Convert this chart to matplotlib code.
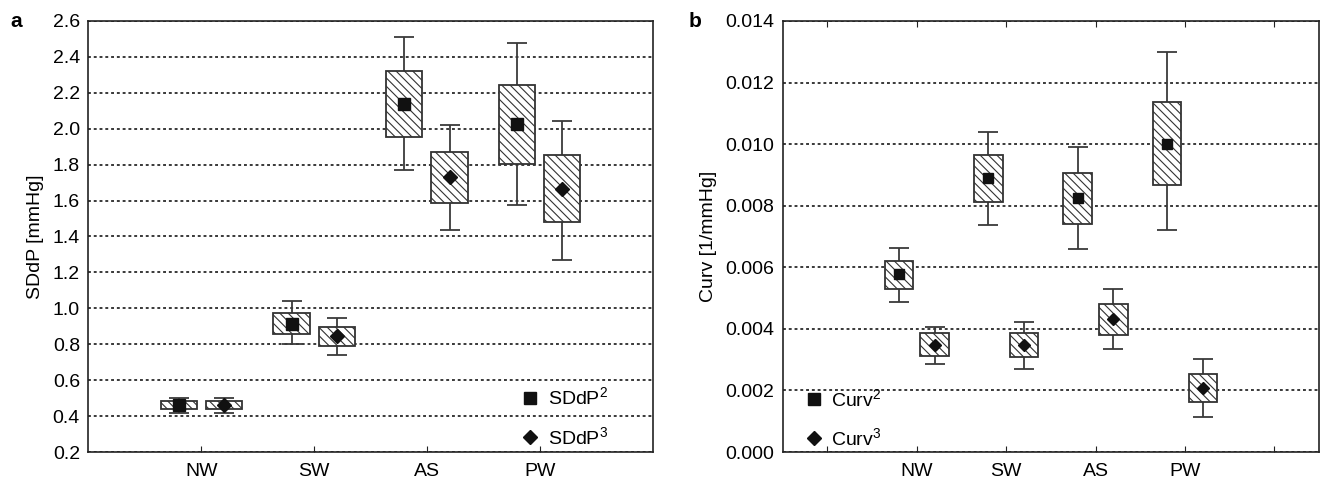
import numpy as np
import matplotlib
matplotlib.use("Agg")
import matplotlib.pyplot as plt

plt.rcParams['font.family'] = ['Liberation Sans', 'DejaVu Sans']
plt.rcParams['mathtext.fontset'] = 'custom'
plt.rcParams['mathtext.rm'] = 'Liberation Sans'
plt.rcParams['hatch.linewidth'] = 0.8

# groups on the x axis
groups = ['NW', 'SW', 'AS', 'PW']

# panel a : SDdP [mmHg]  (whisker low, box low, mean, box high, whisker high)
sddp2_mean = [0.460, 0.915, 2.139, 2.024]
sddp2_box_lo = [0.441, 0.859, 1.952, 1.805]
sddp2_box_hi = [0.482, 0.975, 2.321, 2.241]
sddp2_wh_lo = [0.419, 0.803, 1.773, 1.573]
sddp2_wh_hi = [0.501, 1.040, 2.509, 2.476]

sddp3_mean = [0.460, 0.844, 1.731, 1.667]
sddp3_box_lo = [0.441, 0.791, 1.588, 1.480]
sddp3_box_hi = [0.486, 0.896, 1.872, 1.851]
sddp3_wh_lo = [0.419, 0.742, 1.437, 1.270]
sddp3_wh_hi = [0.501, 0.947, 2.020, 2.041]

# panel b : Curv [1/mmHg]
curv2_mean = [0.00578, 0.00889, 0.00824, 0.01001]
curv2_box_lo = [0.00531, 0.00811, 0.00740, 0.00866]
curv2_box_hi = [0.00621, 0.00966, 0.00907, 0.01138]
curv2_wh_lo = [0.00488, 0.00736, 0.00658, 0.00721]
curv2_wh_hi = [0.00663, 0.01039, 0.00990, 0.01298]

curv3_mean = [0.00349, 0.00349, 0.00433, 0.00207]
curv3_box_lo = [0.00311, 0.00309, 0.00381, 0.00162]
curv3_box_hi = [0.00385, 0.00385, 0.00481, 0.00254]
curv3_wh_lo = [0.00287, 0.00270, 0.00333, 0.00114]
curv3_wh_hi = [0.00406, 0.00423, 0.00530, 0.00302]

EDGE = '#333333'


def draw_boxes(ax, x, mean, box_lo, box_hi, wh_lo, wh_hi, marker, ms):
    mean = np.array(mean)
    box_lo = np.array(box_lo)
    box_hi = np.array(box_hi)
    ax.errorbar(x, mean, yerr=[mean - np.array(wh_lo), np.array(wh_hi) - mean],
                fmt='none', ecolor='#3a3a3a', elinewidth=1.3, capsize=7,
                capthick=1.3, zorder=2)
    ax.bar(x, box_hi - box_lo, bottom=box_lo, width=0.32, facecolor='white',
           edgecolor=EDGE, linewidth=1.3, hatch='\\\\\\\\', zorder=3)
    ax.plot(x, mean, linestyle='none', marker=marker, markersize=ms,
            color='#111111', zorder=4)


def style_axis(ax):
    for s in ax.spines.values():
        s.set_color('#222222')
        s.set_linewidth(1.2)
    ax.yaxis.grid(True, color='#2a2a2a', linestyle=(0, (1.6, 1.6)),
                  linewidth=1.3)
    ax.set_axisbelow(True)
    ax.tick_params(axis='y', length=0, labelsize=14, pad=6)
    ax.tick_params(axis='x', direction='in', length=4, labelsize=14,
                   pad=8, color='#222222')


fig = plt.figure(figsize=(13.2, 4.8), dpi=100)
ax1 = fig.add_axes([0.0669, 0.0583, 0.4276, 0.898])
ax2 = fig.add_axes([0.593, 0.0583, 0.4063, 0.898])

pos = np.arange(1, len(groups) + 1)

# panel a
draw_boxes(ax1, pos - 0.2, sddp2_mean, sddp2_box_lo, sddp2_box_hi,
           sddp2_wh_lo, sddp2_wh_hi, 's', 8.5)
draw_boxes(ax1, pos + 0.2, sddp3_mean, sddp3_box_lo, sddp3_box_hi,
           sddp3_wh_lo, sddp3_wh_hi, 'D', 7)
ax1.set_xlim(0, 5)
ax1.set_ylim(0.2, 2.6)
ax1.set_yticks(np.arange(0.2, 2.61, 0.2))
ax1.set_yticklabels(['%.1f' % v for v in np.arange(0.2, 2.61, 0.2)])
ax1.set_xticks(pos)
ax1.set_xticklabels(groups)
ax1.set_ylabel('SDdP [mmHg]', fontsize=14, labelpad=6)
style_axis(ax1)
h1 = ax1.plot([], [], 's', color='#111111', markersize=9)[0]
h2 = ax1.plot([], [], 'D', color='#111111', markersize=7)[0]
ax1.legend([h1, h2], [r'$\mathregular{SDdP^2}$', r'$\mathregular{SDdP^3}$'],
           loc='lower right', frameon=False, fontsize=14, handlelength=0.8,
           handletextpad=0.5, labelspacing=0.9, borderaxespad=0.3,
           bbox_to_anchor=(0.945, -0.022))

# panel b
draw_boxes(ax2, pos - 0.2, curv2_mean, curv2_box_lo, curv2_box_hi,
           curv2_wh_lo, curv2_wh_hi, 's', 7)
draw_boxes(ax2, pos + 0.2, curv3_mean, curv3_box_lo, curv3_box_hi,
           curv3_wh_lo, curv3_wh_hi, 'D', 6)
ax2.set_xlim(-0.5, 5.5)
ax2.set_ylim(0, 0.014)
ax2.set_yticks(np.arange(0, 0.0141, 0.002))
ax2.set_yticklabels(['%.3f' % v for v in np.arange(0, 0.0141, 0.002)])
ax2.set_xticks(np.arange(0, 6))
ax2.set_xticklabels([''] + groups + [''])
ax2.set_ylabel('Curv [1/mmHg]', fontsize=14, labelpad=6)
style_axis(ax2)
ax2.tick_params(axis='x', top=True)
g1 = ax2.plot([], [], 's', color='#111111', markersize=9)[0]
g2 = ax2.plot([], [], 'D', color='#111111', markersize=7)[0]
ax2.legend([g1, g2], [r'$\mathregular{Curv^2}$', r'$\mathregular{Curv^3}$'],
           loc='lower left', frameon=False, fontsize=14, handlelength=0.8,
           handletextpad=0.5, labelspacing=0.9, borderaxespad=0.3,
           bbox_to_anchor=(0.018, -0.025))

fig.text(0.008, 0.975, 'a', fontsize=15, fontweight='bold', va='top')
fig.text(0.522, 0.975, 'b', fontsize=15, fontweight='bold', va='top')

fig.savefig('out.png', dpi=100)
